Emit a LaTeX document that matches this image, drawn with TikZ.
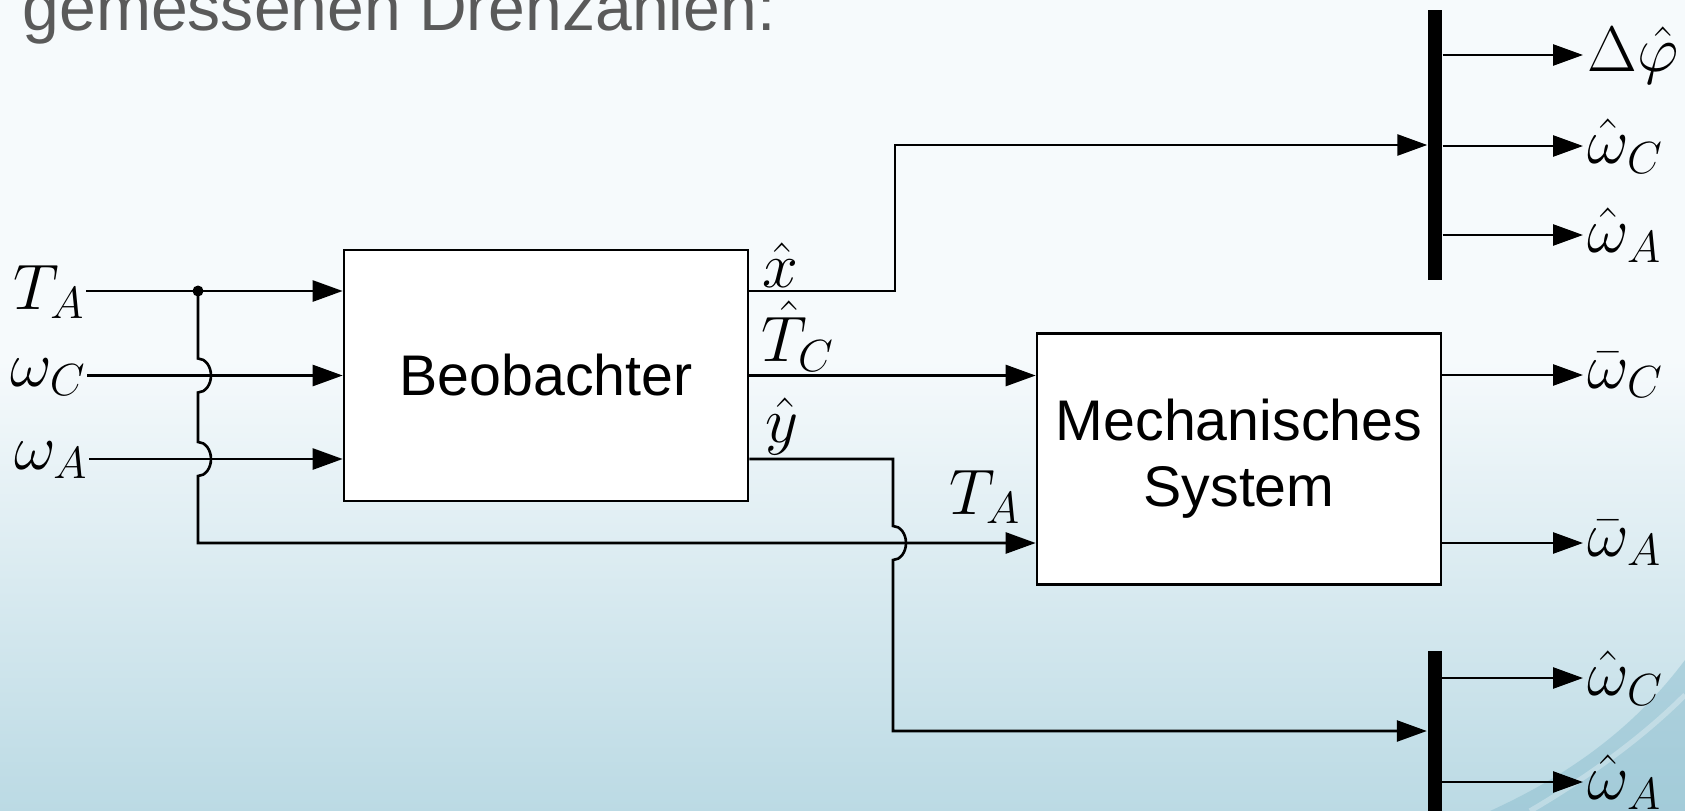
\RequirePackage{fix-cm}
\documentclass[tikz,border=0pt]{standalone}
\usepackage{amsmath,amssymb}
\usepackage{fontspec}
\setmainfont{Liberation Sans}
\usepackage{tikz}
\usetikzlibrary{arrows.meta,positioning,calc}
\definecolor{bgtop}{HTML}{F6FAFC}
\definecolor{bgbot}{HTML}{BBDAE4}
\definecolor{swoosh}{HTML}{86BACC}
\definecolor{headgrey}{HTML}{5A5A5A}
\tikzset{
  >={Triangle[length=3mm,width=2.1mm]},
  sig/.style={->,line width=0.75pt},
  wire/.style={line width=0.75pt},
}
\newcommand{\hop}{arc[start angle=90,end angle=-90,x radius=0.13,y radius=0.17]}

\begin{document}
\begin{tikzpicture}[
  blk/.style={draw,fill=white,line width=0.75pt,minimum width=4.04cm,
    minimum height=2.51cm,align=center,font=\fontsize{16.3}{18.8}\selectfont},
  bus/.style={fill=black,draw=none,minimum width=0.14cm,inner sep=0pt},
  lab/.style={inner sep=0pt,font=\fontsize{18.3}{22}\selectfont},
]
  % slide background
  \clip (0,0) rectangle (16.85,-8.11);
  \fill[bgtop] (0,0) rectangle (16.85,-8.11);
  \shade[top color=bgtop,bottom color=bgbot] (0,-3.6) rectangle (16.85,-8.11);
  \fill[swoosh,opacity=0.45] (14.9,-8.11) .. controls (15.8,-7.7) and (16.4,-7.2) .. (16.85,-6.6)
    -- (16.85,-8.11) -- cycle;
  \draw[white,opacity=0.3,line width=1.5pt] (15.3,-8.11) .. controls (16.0,-7.7) and (16.5,-7.3) .. (16.85,-6.95);
  \node[anchor=base west,inner sep=0pt,text=headgrey,font=\fontsize{18.8}{22}\selectfont]
    (head) at (0.22,-0.30) {gemessenen Drehzahlen:};

  % blocks
  \node[blk] (beob) at (5.46,-3.755) {Beobachter};
  \node[blk] (mech) at (12.39,-4.59) {Mechanisches\\System};
  \node[bus,minimum height=2.7cm] (bus1) at (14.35,-1.45) {};
  \node[bus,minimum height=1.8cm] (bus2) at (14.345,-7.41) {};

  % inputs
  \node[lab,anchor=east] (lTA) at (0.86,-2.92) {$T_A$};
  \node[lab,anchor=east] (lwC) at (0.87,-3.77) {$\omega_C$};
  \node[lab,anchor=east] (lwA) at (0.89,-4.60) {$\omega_A$};
  \coordinate (split) at (1.98,-2.91);
  \coordinate (taM) at ($(mech.west)+(0,-0.84)$);
  \draw[sig] (lTA.east |- split) -- (split -| beob.west);
  \draw[sig] (lwC.east |- beob.west) -- (beob.west);
  \draw[sig] (lwA.east |- 0,-4.59) -- (beob.west |- 0,-4.59);
  \fill (split) circle (0.055);
  \draw[sig] (split) -- ($(split |- beob.west)+(0,0.17)$) \hop
    -- ($(split |- 0,-4.59)+(0,0.17)$) \hop
    -- (split |- taM) -- (taM);
  \node[lab] (lTAm) at (9.85,-4.97) {$T_A$};

  % observer outputs
  \coordinate (xk) at (8.95,-2.91);
  \coordinate (yk) at (8.93,-4.59);
  \draw[sig] (beob.east |- xk) -- (xk) -- (xk |- bus1.west) -- (bus1.west);
  \draw[sig] (beob.east) -- (beob.east -| mech.west);
  \draw[sig] (beob.east |- yk) -- (yk) -- ($(yk |- taM)+(0,0.17)$) \hop
    -- (yk |- 0,-7.31) -- (bus2.west |- 0,-7.31);
  \node[lab] (lx) at (7.80,-2.65) {$\hat{x}$};
  \node[lab] (lTC) at (7.98,-3.36) {$\hat{T}_C$};
  \node[lab] (ly) at (7.82,-4.26) {$\hat{y}$};

  % outputs
  \foreach \n/\y/\t in {a/0.55/{\Delta\hat{\varphi}},b/1.46/{\hat{\omega}_C},c/2.35/{\hat{\omega}_A}}
    \draw[sig] (bus1.east |- 0,-\y) -- (15.83,-\y) node[lab,anchor=west,xshift=1pt] (o1\n) {$\t$};
  \foreach \n/\y/\t in {a/3.75/{\bar{\omega}_C},b/5.43/{\bar{\omega}_A}}
    \draw[sig] (mech.east |- 0,-\y) -- (15.83,-\y) node[lab,anchor=west,xshift=1pt] (om\n) {$\t$};
  \foreach \n/\y/\t in {a/6.78/{\hat{\omega}_C},b/7.82/{\hat{\omega}_A}}
    \draw[sig] (bus2.east |- 0,-\y) -- (15.83,-\y) node[lab,anchor=west,xshift=1pt] (o2\n) {$\t$};
\end{tikzpicture}
\end{document}
